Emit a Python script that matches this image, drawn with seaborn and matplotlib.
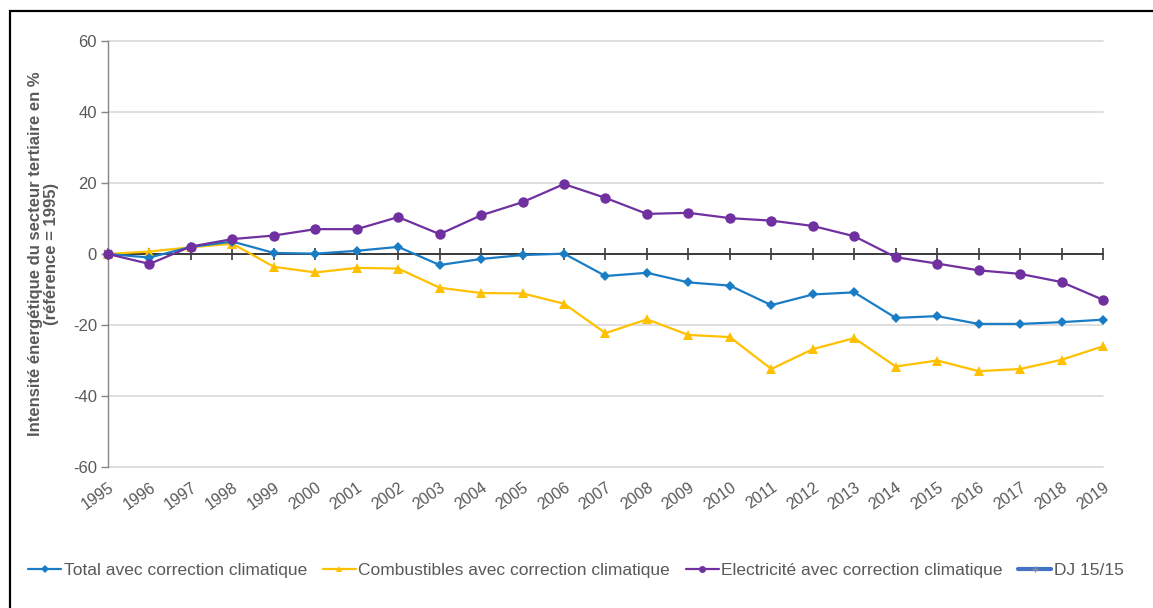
import matplotlib
matplotlib.use("Agg")
import matplotlib.pyplot as plt
import seaborn as sns
import pandas as pd
from matplotlib.lines import Line2D
from matplotlib.patches import Rectangle

# Évolution de l'intensité énergétique du tertiaire (base 1995 = 0 %)
years = list(range(1995, 2020))
total = [0, -1.0, 2.0, 3.5, 0.3, 0.1, 0.9, 2.0, -3.1, -1.4, -0.3, 0.1, -6.2,
         -5.3, -8.0, -8.9, -14.4, -11.4, -10.8, -18.0, -17.5, -19.7, -19.7,
         -19.2, -18.5]
combustibles = [0, 0.7, 1.9, 2.9, -3.6, -5.2, -3.9, -4.1, -9.5, -11.0, -11.1,
                -14.0, -22.3, -18.4, -22.8, -23.4, -32.4, -26.8, -23.7, -31.7,
                -30.0, -33.0, -32.4, -29.8, -26.0]
electricite = [0, -2.8, 2.1, 4.2, 5.2, 7.0, 7.0, 10.4, 5.6, 10.9, 14.6, 19.7,
               15.8, 11.3, 11.6, 10.1, 9.4, 7.9, 5.0, -0.9, -2.7, -4.6, -5.6,
               -7.9, -12.9]
dj_years = [1995]
dj_values = [0]

labels = ["Total avec correction climatique",
          "Combustibles avec correction climatique",
          "Electricité avec correction climatique",
          "DJ 15/15"]
yticks = [-60, -40, -20, 0, 20, 40, 60]

sns.set_style("white")
plt.rcParams["font.family"] = ["Liberation Sans", "DejaVu Sans"]
plt.rcParams["axes.unicode_minus"] = False

GREY_TXT = "#595959"
colors = {labels[0]: "#1B7CC6", labels[1]: "#FFC000",
          labels[2]: "#7030A0", labels[3]: "#4472C4"}
styles = {labels[0]: dict(marker="D", ms=5, z=4),
          labels[1]: dict(marker="^", ms=7, z=3),
          labels[2]: dict(marker="o", ms=7.5, z=5)}

frames = []
for name, vals in zip(labels[:3], [total, combustibles, electricite]):
    frames.append(pd.DataFrame({"annee": years, "valeur": vals, "serie": name}))
frames.append(pd.DataFrame({"annee": dj_years, "valeur": dj_values,
                            "serie": labels[3]}))
df = pd.concat(frames, ignore_index=True)

fig = plt.figure(figsize=(11.53, 6.08), dpi=100)
ax = fig.add_axes([108 / 1153, 1 - 467 / 608, (1103 - 108) / 1153, 426 / 608])

for name in labels[:3]:
    st = styles[name]
    sns.lineplot(data=df[df["serie"] == name], x="annee", y="valeur",
                 color=colors[name], marker=st["marker"], markersize=st["ms"],
                 markeredgewidth=0, linewidth=1.6, ax=ax, zorder=st["z"],
                 clip_on=False)

sns.lineplot(data=df[df["serie"] == labels[3]], x="annee", y="valeur",
             color=colors[labels[3]], marker="x", markersize=6,
             markeredgecolor="#8c8c8c", markeredgewidth=1.2, linewidth=3,
             ax=ax, zorder=2, clip_on=False)

ax.set_xlim(1995, 2019)
ax.set_ylim(-60, 60)
ax.set_yticks(yticks)
ax.set_yticklabels([str(v) for v in yticks])
ax.set_xticks(years)
ax.grid(axis="y", color="#d9d9d9", linewidth=1.2)
ax.grid(axis="x", visible=False)
for gl in ax.get_ygridlines():
    gl.set_clip_on(False)

for s in ["top", "right"]:
    ax.spines[s].set_visible(False)
ax.spines["left"].set_color("#868686")
ax.spines["left"].set_linewidth(1)
# Horizontal axis crossing at zero
ax.spines["bottom"].set_position(("data", 0))
ax.spines["bottom"].set_color("#3a3a3a")
ax.spines["bottom"].set_linewidth(1.4)
ax.spines["bottom"].set_zorder(2.5)
ax.tick_params(axis="x", bottom=True, direction="inout", length=9, width=1.2,
               color="#3a3a3a", labelbottom=False)
ax.tick_params(axis="y", left=True, direction="out", length=5, width=1,
               color="#868686", labelcolor=GREY_TXT, labelsize=12, pad=3)

# Year labels along the bottom edge
sec = ax.secondary_xaxis("bottom")
sec.set_xticks(years)
sec.set_xticklabels([str(y) for y in years], rotation=35, ha="right",
                    rotation_mode="anchor", color=GREY_TXT, fontsize=11.5)
sec.tick_params(length=0, pad=9)
sec.spines["bottom"].set_visible(False)

ax.set_xlabel("")
ax.set_ylabel("Intensité énergétique du secteur tertiaire en %\n(référence = 1995)",
              fontsize=12, fontweight="bold", color=GREY_TXT, labelpad=10,
              linespacing=1.05)

handles = [
    Line2D([], [], color=colors[labels[0]], marker="D", ms=4, mew=0, lw=1.6),
    Line2D([], [], color=colors[labels[1]], marker="^", ms=5, mew=0, lw=1.6),
    Line2D([], [], color=colors[labels[2]], marker="o", ms=5, mew=0, lw=1.6),
    Line2D([], [], color=colors[labels[3]], marker="+", ms=5,
           markeredgecolor="#8c8c8c", lw=3),
]
leg = fig.legend(handles, labels, loc="center",
                 bbox_to_anchor=(576 / 1153, 1 - 570 / 608), ncol=4,
                 frameon=False, fontsize=12.5, handlelength=1.9,
                 handletextpad=0.15, columnspacing=0.9)
for t in leg.get_texts():
    t.set_color(GREY_TXT)

# Outer frame (open at the right and bottom)
fig.patches.append(Rectangle((10 / 1153, -0.1), 1.2, 1.1 - 11 / 608,
                             transform=fig.transFigure, fill=False,
                             edgecolor="black", linewidth=1.6))

fig.savefig("out.png", dpi=100)
